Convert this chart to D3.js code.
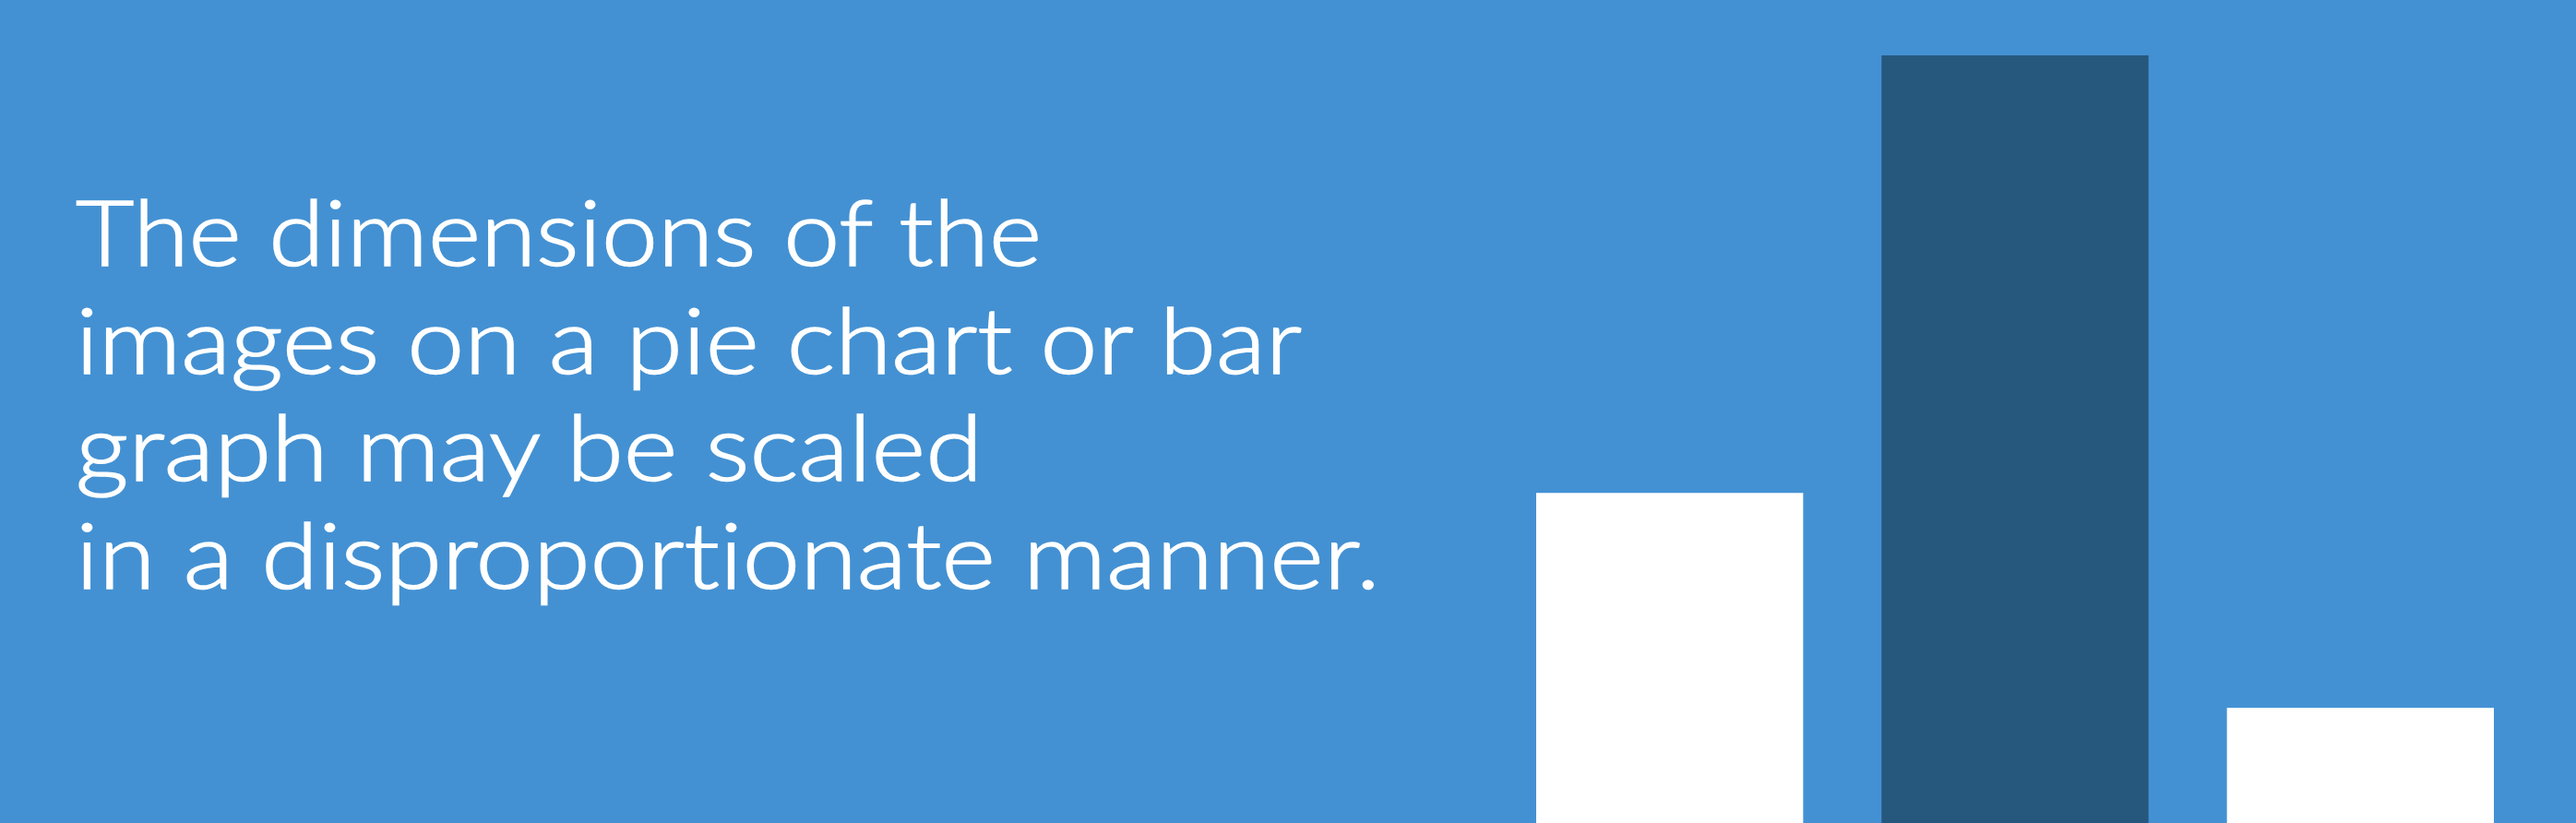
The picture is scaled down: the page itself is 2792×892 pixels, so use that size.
<!DOCTYPE html>
<html>
<head>
<meta charset="utf-8">
<script src="https://cdn.jsdelivr.net/npm/d3@7"></script>
<style>
  html, body { margin: 0; padding: 0; background: #4391d3; overflow: hidden; }
  svg { display: block; }
</style>
</head>
<body>
<div id="chart"></div>
<script>
// chart data
var categories = ['A', 'B', 'C'];
var values = [43, 100, 15];
var highlight = [false, true, false];
var captionLines = [
  'The dimensions of the',
  'images on a pie chart or bar',
  'graph may be scaled',
  'in a disproportionate manner.'
];

var width = 2792, height = 892;

var svg = d3.select('#chart').append('svg')
  .attr('width', width)
  .attr('height', height);

svg.append('rect')
  .attr('width', width)
  .attr('height', height)
  .attr('fill', '#4391d3');

//scales
var x = d3.scaleBand()
  .domain(categories)
  .range([1665, 2703])
  .paddingInner(0.227)
  .paddingOuter(0);

var y = d3.scaleLinear()
  .domain([0, 100])
  .range([height, 60]);

//bars
svg.append('g').selectAll('rect')
  .data(values)
  .join('rect')
  .attr('x', function(d, i) { return x(categories[i]); })
  .attr('y', function(d) { return y(d); })
  .attr('width', x.bandwidth())
  .attr('height', function(d) { return y(0) - y(d); })
  .attr('fill', function(d, i) { return highlight[i] ? '#26587e' : '#ffffff'; });

//caption text, widths fitted to the original lettering
var lineWidths = [1047, 1329, 983, 1414];
svg.append('g').selectAll('text')
  .data(captionLines)
  .join('text')
  .attr('x', 82)
  .attr('y', function(d, i) { return 288 + i * 116.5; })
  .attr('textLength', function(d, i) { return lineWidths[i]; })
  .attr('lengthAdjust', 'spacingAndGlyphs')
  .attr('fill', '#ffffff')
  .attr('stroke', '#ffffff')
  .attr('stroke-width', 1.6)
  .style('font-family', 'Lato, "Open Sans", sans-serif')
  .style('font-weight', 300)
  .style('font-variant-ligatures', 'none')
  .style('font-size', '98px')
  .text(function(d) { return d; });
</script>
</body>
</html>
